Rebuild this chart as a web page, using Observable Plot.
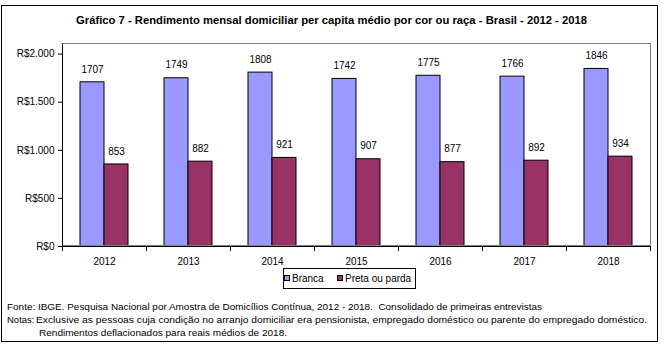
<!DOCTYPE html>
<html>
<head>
<meta charset="utf-8">
<script src="https://cdn.jsdelivr.net/npm/d3@7"></script>
<script src="https://cdn.jsdelivr.net/npm/@observablehq/plot@0.6"></script>
<style>
  html, body { margin: 0; padding: 0; background: white; }
  svg { display: block; }
</style>
</head>
<body>
<div id="chart"></div>
<script>
const years = ["2012", "2013", "2014", "2015", "2016", "2017", "2018"];
const branca = [1707, 1749, 1808, 1742, 1775, 1766, 1846];
const preta = [853, 882, 921, 907, 877, 892, 934];
const series = ["Branca", "Preta ou parda"];
const colors = ["#9999FF", "#993366"];
const yTicks = [0, 500, 1000, 1500, 2000];
const title = "Gráfico 7 - Rendimento mensal domiciliar per capita médio por cor ou raça - Brasil - 2012 - 2018";
const fonte = "Fonte: IBGE. Pesquisa Nacional por Amostra de Domicílios Contínua, 2012 - 2018.  Consolidado de primeiras entrevistas";
const notasLabel = "Notas:";
const notas1 = "Exclusive as pessoas cuja condição no arranjo domiciliar era pensionista, empregado doméstico ou parente do empregado doméstico.";
const notas2 = "Rendimentos deflacionados para reais médios de 2018.";

const data = years.flatMap((y, i) => [
  {year: y, serie: series[0], value: branca[i]},
  {year: y, serie: series[1], value: preta[i]}
]);

const font = "'Liberation Sans', Arial, sans-serif";

const chart = Plot.plot({
  width: 664,
  height: 346,
  marginLeft: 61,
  marginRight: 14,
  marginTop: 44,
  marginBottom: 100,
  style: {fontFamily: font, fontSize: "10px", color: "black", background: "white", overflow: "visible"},
  fx: {domain: years, padding: 0, label: null},
  x: {domain: series, paddingInner: 0, paddingOuter: 0.75, axis: null},
  y: {domain: [0, 2100], label: null},
  color: {domain: series, range: colors},
  marks: [
    Plot.barY(data, {fx: "year", x: "serie", y: "value", fill: "serie", stroke: "black", strokeWidth: 1}),
    Plot.text(data, {fx: "year", x: "serie", y: "value", text: d => String(d.value), dy: -13, fill: "black"}),
    Plot.axisY({ticks: yTicks, tickFormat: d => "R$" + d3.format(",")(d).replace(/,/g, "."), tickSize: 4, tickPadding: 4, label: null, stroke: "black"}),
    Plot.axisFx({anchor: "bottom", tickSize: 0, tickPadding: 11, label: null})
  ]
});

document.getElementById("chart").appendChild(chart);

const svg = d3.select(chart);
const fx = chart.scale("fx");
const y = chart.scale("y");
const x0 = fx.apply(years[0]);
const x1 = fx.apply(years[years.length - 1]) + fx.bandwidth;
const yTop = y.apply(2100);
const yBot = y.apply(0);

const deco = svg.append("g").attr("fill", "none");
// outer border
deco.append("rect").attr("x", 1.5).attr("y", 5.5).attr("width", 656).attr("height", 336)
  .attr("stroke", "black");
// plot area frame
deco.append("rect").attr("x", x0 + 0.5).attr("y", yTop - 0.5).attr("width", x1 - x0).attr("height", yBot - yTop)
  .attr("stroke", "#808080");
// axes
deco.append("line").attr("x1", x0 + 0.5).attr("x2", x0 + 0.5).attr("y1", yTop - 0.5).attr("y2", yBot + 0.5).attr("stroke", "black");
deco.append("line").attr("x1", x0).attr("x2", x1 + 0.5).attr("y1", yBot + 0.5).attr("y2", yBot + 0.5).attr("stroke", "black");
const bounds = years.map(d => fx.apply(d)).concat([x1]);
bounds.forEach(b => {
  deco.append("line").attr("x1", b + 0.5).attr("x2", b + 0.5).attr("y1", yBot).attr("y2", yBot + 5).attr("stroke", "black");
});

// title
svg.append("text").attr("x", 331.5).attr("y", 24).attr("text-anchor", "middle")
  .attr("font-family", font).attr("font-size", 10).attr("font-weight", "bold")
  .attr("textLength", 511).attr("lengthAdjust", "spacingAndGlyphs").attr("fill", "black").text(title);

// legend
const lg = svg.append("g").attr("font-family", font).attr("font-size", 10).attr("text-anchor", "start");
lg.append("rect").attr("x", 283.5).attr("y", 268.5).attr("width", 132).attr("height", 20).attr("fill", "white").attr("stroke", "black");
const lx = [284, 337];
series.forEach((s, i) => {
  lg.append("rect").attr("x", lx[i] + 0.5).attr("y", 275.5).attr("width", 5).attr("height", 5).attr("fill", colors[i]).attr("stroke", "black");
  lg.append("text").attr("x", lx[i] + 8).attr("y", 282).attr("fill", "black").attr("text-anchor", "start").text(s);
});

// footer
const ft = svg.append("g").attr("font-family", font).attr("font-size", 9.5).attr("fill", "black").attr("text-anchor", "start");
ft.append("text").attr("x", 7).attr("y", 309.5).attr("text-anchor", "start").attr("textLength", 535).attr("lengthAdjust", "spacingAndGlyphs").text(fonte);
ft.append("text").attr("x", 7).attr("y", 322.5).attr("text-anchor", "start").text(notasLabel);
ft.append("text").attr("x", 36).attr("y", 322.5).attr("text-anchor", "start").attr("textLength", 611).attr("lengthAdjust", "spacingAndGlyphs").text(notas1);
ft.append("text").attr("x", 39).attr("y", 335.5).attr("text-anchor", "start").attr("textLength", 248).attr("lengthAdjust", "spacingAndGlyphs").text(notas2);
</script>
</body>
</html>
